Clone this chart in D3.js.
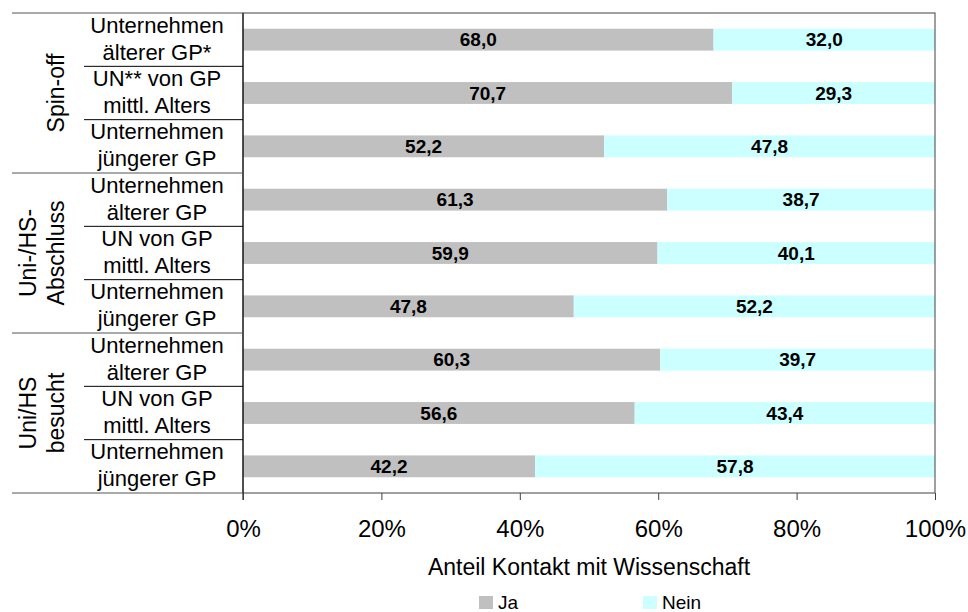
<!DOCTYPE html>
<meta charset="utf-8">
<body style="margin:0;background:#fff">
<div id="chart"></div>
</body>
<script src="https://cdn.jsdelivr.net/npm/d3@7/dist/d3.min.js"></script>
<script>

// group labels (rotated, left column)
var groups = [["Spin-off"], ["Uni-/HS-", "Abschluss"], ["Uni/HS", "besucht"]];
// category labels, two lines each
var categories = [
	["Unternehmen", "älterer GP*"], ["UN** von GP", "mittl. Alters"], ["Unternehmen", "jüngerer GP"],
	["Unternehmen", "älterer GP"], ["UN von GP", "mittl. Alters"], ["Unternehmen", "jüngerer GP"],
	["Unternehmen", "älterer GP"], ["UN von GP", "mittl. Alters"], ["Unternehmen", "jüngerer GP"]
];
var ja = [68.0, 70.7, 52.2, 61.3, 59.9, 47.8, 60.3, 56.6, 42.2];
var nein = [32.0, 29.3, 47.8, 38.7, 40.1, 52.2, 39.7, 43.4, 57.8];
var seriesNames = ["Ja", "Nein"];
var tickValues = [0, 20, 40, 60, 80, 100];

var width = 968,
	height = 612;
var plotLeft = 243, plotRight = 935, plotTop = 13, plotBottom = 493;
var font = "'Liberation Sans', Arial, sans-serif";
var colors = ["#c0c0c0", "#ccffff"];

var svg = d3.select("#chart").append("svg")
	.attr("width", width)
	.attr("height", height)
	.style("font-family", font);

var x = d3.scaleLinear().domain([0, 100]).range([plotLeft, plotRight]);
var y = d3.scaleBand()
	.domain(d3.range(categories.length))
	.range([plotTop, plotBottom])
	.paddingInner(0.59)
	.paddingOuter(0.295);
var step = y.step();

// stacked bars
var rows = ja.map(function (v, i) { return { i: i, vals: [ja[i], nein[i]] }; });
var stack = d3.stack().keys([0, 1]).value(function (d, k) { return d.vals[k]; });
var layers = stack(rows);

svg.selectAll("g.layer")
	.data(layers)
	.enter().append("g")
	.attr("class", "layer")
	.attr("fill", function (d, k) { return colors[k]; })
	.selectAll("rect")
	.data(function (d) { return d; })
	.enter().append("rect")
	.attr("x", function (d) { return x(d[0]); })
	.attr("width", function (d) { return x(d[1]) - x(d[0]); })
	.attr("y", function (d) { return y(d.data.i); })
	.attr("height", y.bandwidth());

// value labels
layers.forEach(function (layer) {
	svg.append("g").selectAll("text")
		.data(layer)
		.enter().append("text")
		.attr("x", function (d) { return (x(d[0]) + x(d[1])) / 2; })
		.attr("y", function (d) { return y(d.data.i) + y.bandwidth() / 2 + 6.5; })
		.attr("text-anchor", "middle")
		.style("font-size", "19px")
		.style("font-weight", "bold")
		.text(function (d) { return (d[1] - d[0]).toFixed(1).replace(".", ","); });
});

// plot frame
svg.append("rect")
	.attr("x", plotLeft).attr("y", plotTop)
	.attr("width", plotRight - plotLeft).attr("height", plotBottom - plotTop)
	.attr("fill", "none")
	.attr("stroke", "#404040");
svg.append("line")
	.attr("x1", plotLeft).attr("x2", plotLeft)
	.attr("y1", plotTop).attr("y2", plotBottom + 7)
	.attr("stroke", "#000");

// x axis
var xAxis = svg.append("g")
	.attr("transform", "translate(0," + plotBottom + ")")
	.call(d3.axisBottom(x)
		.tickValues(tickValues)
		.tickFormat(function (d) { return d + "%"; })
		.tickSize(7)
		.tickPadding(20));
xAxis.select(".domain").remove();
xAxis.selectAll(".tick line").attr("stroke", "#404040");
xAxis.selectAll("text")
	.style("font-size", "24px")
	.style("font-family", font)
	.attr("fill", "#000");

svg.append("text")
	.attr("x", (plotLeft + plotRight) / 2)
	.attr("y", 575)
	.attr("text-anchor", "middle")
	.style("font-size", "23px")
	.text("Anteil Kontakt mit Wissenschaft");

// left table: separators
var perGroup = categories.length / groups.length;
d3.range(categories.length + 1).forEach(function (i) {
	var yy = plotTop + i * step;
	var isGroup = i % perGroup === 0;
	svg.append("line")
		.attr("x1", isGroup ? 12 : 84).attr("x2", plotLeft)
		.attr("y1", yy).attr("y2", yy)
		.attr("stroke", isGroup ? "#555" : "#000");
});

// category labels
categories.forEach(function (lines, i) {
	var c = y(i) + y.bandwidth() / 2;
	svg.append("text")
		.attr("text-anchor", "middle")
		.style("font-size", "22px")
		.selectAll("tspan")
		.data(lines)
		.enter().append("tspan")
		.attr("x", 157)
		.attr("y", function (d, j) { return c - 7 + j * 27; })
		.text(function (d) { return d; });
});

// group labels, rotated
groups.forEach(function (lines, g) {
	var cy = plotTop + (g + 0.5) * perGroup * step;
	var n = lines.length;
	svg.append("text")
		.attr("text-anchor", "middle")
		.attr("transform", "rotate(-90)")
		.style("font-size", "23px")
		.selectAll("tspan")
		.data(lines)
		.enter().append("tspan")
		.attr("x", -cy)
		.attr("y", function (d, j) { return 64 - (n - 1 - j) * 28; })
		.text(function (d) { return d; });
});

// legend
var legendX = [479, 643];
var legend = svg.selectAll("g.legend")
	.data(seriesNames)
	.enter().append("g")
	.attr("class", "legend")
	.attr("transform", function (d, i) { return "translate(" + legendX[i] + ",596)"; });
legend.append("rect")
	.attr("width", 14).attr("height", 13)
	.attr("fill", function (d, i) { return colors[i]; });
legend.append("text")
	.attr("x", 19).attr("y", 13)
	.style("font-size", "19px")
	.text(function (d) { return d; });
</script>
